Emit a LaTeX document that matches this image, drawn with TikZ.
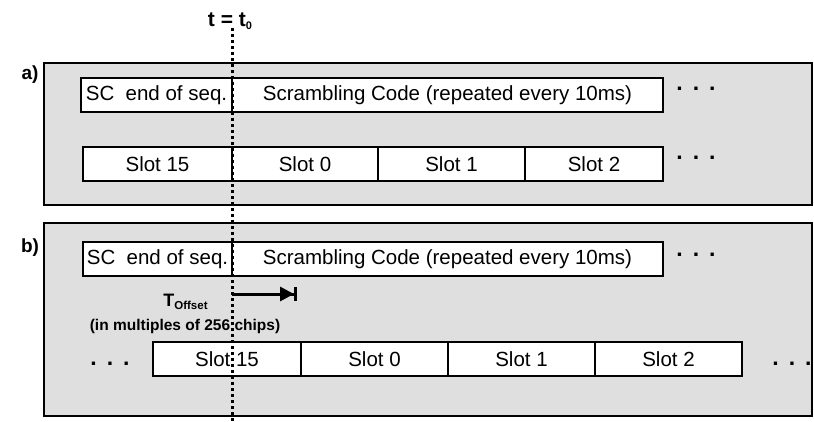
\documentclass[tikz,border=0pt]{standalone}
\usepackage{fontspec}
\setmainfont{Liberation Sans}
\usetikzlibrary{arrows.meta, positioning}
\definecolor{panelgray}{RGB}{223,223,223}
\tikzset{
  panel/.style={draw, fill=panelgray, line width=1.2pt, anchor=north west,
                inner sep=0pt, outer sep=0pt},
  seqbox/.style={draw, fill=white, line width=1.2pt, minimum height=34pt,
                 inner sep=1pt, outer sep=0pt, anchor=north west,
                 font=\fontsize{20.5}{24}\selectfont},
  slotbox/.style={seqbox, minimum width=147pt},
  lbl/.style={font=\fontsize{19}{22}\selectfont\bfseries, anchor=base},
  more/.style={font=\fontsize{23}{24}\selectfont\bfseries, anchor=base},
  timeline/.style={line width=3pt, dash pattern=on 3pt off 3pt},
  offarrow/.style={line width=3pt, -{Triangle[length=14pt,width=14pt]Bar[width=14pt,line width=3pt]}}
}

\begin{document}
\begin{tikzpicture}[x=1pt, y=-1pt]
  \useasboundingbox (0,0) rectangle (814,422);

  % Panels
  \node[panel, minimum width=768pt, minimum height=142pt] (panela) at (44,63) {};
  \node[panel, minimum width=768pt, minimum height=193pt] (panelb) at (44,223) {};
  \node[lbl] (labela) at (30,80) {a)};
  \node[lbl] (labelb) at (30,252) {b)};

  % a) scrambling code
  \node[seqbox, minimum width=151pt] (scenda) at (81,78) {SC\ \ end of seq.};
  \node[seqbox, minimum width=431pt, right=0pt of scenda] (scodea)
    {Scrambling Code (repeated every 10ms)};
  \node[more] (morea1) at (696,91) {.\hspace{10pt}.\hspace{10pt}.};

  % a) slots
  \node[slotbox, minimum width=149pt] (a15) at (83,147) {Slot 15};
  \node[slotbox, minimum width=146pt, right=0pt of a15] (a0) {Slot 0};
  \node[slotbox, right=0pt of a0] (a1) {Slot 1};
  \node[slotbox, minimum width=138pt, right=0pt of a1] (a2) {Slot 2};
  \node[more] (morea2) at (696,160) {.\hspace{10pt}.\hspace{10pt}.};

  % b) scrambling code
  \node[seqbox, minimum width=149pt] (scendb) at (83,242) {SC\ \ end of seq.};
  \node[seqbox, minimum width=431pt, right=0pt of scendb] (scodeb)
    {Scrambling Code (repeated every 10ms)};
  \node[more] (moreb1) at (696,257) {.\hspace{10pt}.\hspace{10pt}.};

  % b) offset
  \coordinate (offstart) at (232,294);
  \coordinate (offend) at (297,294);
  \draw[offarrow] (offstart) -- (offend);
  \node[anchor=base, font=\fontsize{18}{20}\selectfont\bfseries] (toffset) at (185.5,306)
    {T\raisebox{-3.3pt}{\fontsize{11.5}{12}\selectfont Offset}};
  \node[anchor=base, font=\fontsize{15.5}{18}\selectfont\bfseries] (multiples) at (185,330)
    {(in multiples of 256 chips)};

  % b) slots
  \node[slotbox, minimum width=148pt] (b15) at (153,342) {Slot 15};
  \node[slotbox, right=0pt of b15] (b0) {Slot 0};
  \node[slotbox, right=0pt of b0] (b1) {Slot 1};
  \node[slotbox, right=0pt of b1] (b2) {Slot 2};
  \node[more] (moreb0) at (110,365) {.\hspace{10pt}.\hspace{10pt}.};
  \node[more] (moreb2) at (792,365) {.\hspace{10pt}.\hspace{10pt}.};

  % time reference
  \node[lbl, font=\fontsize{21}{22}\selectfont\bfseries] (tzero) at (230,27)
    {t = t\raisebox{-2.5pt}{\fontsize{11}{12}\selectfont 0}};
  \coordinate (ttop) at (232,28);
  \coordinate (tbot) at (232,422);
  \draw[timeline] (ttop) -- (tbot);
\end{tikzpicture}
\end{document}
